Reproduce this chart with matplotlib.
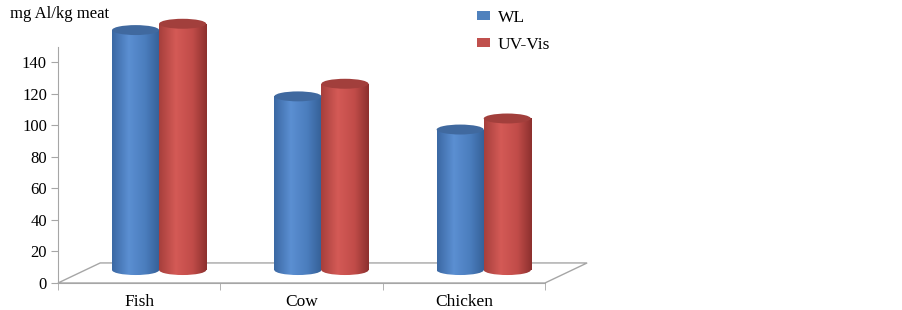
import matplotlib
matplotlib.use('Agg')
import matplotlib.pyplot as plt
import numpy as np
from matplotlib.patches import Ellipse, Rectangle, Polygon, Patch
from matplotlib.colors import LinearSegmentedColormap

categories = ['Fish', 'Cow', 'Chicken']
wl = [152, 110, 89]
uvvis = [156, 118, 96]
yticks = [0, 20, 40, 60, 80, 100, 120, 140]

plt.rcParams['font.family'] = ['Liberation Serif', 'DejaVu Serif']

fig = plt.figure(figsize=(9.02, 3.10), dpi=100)
ax = fig.add_axes([58 / 902, 27 / 310, 535.6 / 902, 268.4 / 310])
ax.set_xlim(-0.5, 2.8)
ax.set_ylim(0, 170)

grey = '#a6a6a6'
# 3d floor
dx, dy = 0.26, 12.7
floor = Polygon([(-0.5, 0), (2.5, 0), (2.5 + dx, dy), (-0.5 + dx, dy)],
                closed=True, facecolor='white', edgecolor=grey, lw=1.0, zorder=1,
                clip_on=False)
ax.add_patch(floor)

blue_cm = LinearSegmentedColormap.from_list('b', [(0, '#3b68a3'), (0.35, '#5b8fd2'),
                                                 (0.7, '#4a7dbd'), (1, '#355f96')])
red_cm = LinearSegmentedColormap.from_list('r', [(0, '#a63f3c'), (0.35, '#d45a56'),
                                                (0.7, '#c14c49'), (1, '#8c302e')])
grad = np.linspace(0, 1, 256).reshape(1, -1)

w = 0.29
base = 8.2
eh = 6.3
xoff = 0.123


def cylinder(xc, h, cmap, top_color):
    x0 = xc - w / 2
    body = Rectangle((x0, base), w, h, transform=ax.transData)
    im = ax.imshow(grad, cmap=cmap, extent=[x0, x0 + w, base - eh, base + h],
                   aspect='auto', zorder=3)
    im.set_clip_path(body)
    bot = Ellipse((xc, base), w, eh, transform=ax.transData)
    im2 = ax.imshow(grad, cmap=cmap, extent=[x0, x0 + w, base - eh, base + h],
                    aspect='auto', zorder=3)
    im2.set_clip_path(bot)
    ax.add_patch(Ellipse((xc, base + h), w, eh, facecolor=top_color,
                         edgecolor='none', zorder=4))


for i in range(len(categories)):
    c = i + xoff
    cylinder(c - w / 2, wl[i], blue_cm, '#40699f')
    cylinder(c + w / 2, uvvis[i], red_cm, '#a23f3c')

ax.set_xlim(-0.5, 2.8)
ax.set_ylim(0, 170)

for s in ['top', 'right']:
    ax.spines[s].set_visible(False)
ax.spines['left'].set_bounds(0, 149.5)
ax.spines['bottom'].set_bounds(-0.5, 2.5)
for s in ['left', 'bottom']:
    ax.spines[s].set_color(grey)
    ax.spines[s].set_zorder(2)

ax.set_yticks(yticks)
ax.set_yticklabels([str(t) for t in yticks], fontsize=12)
ax.set_xticks(range(len(categories)))
ax.set_xticklabels(categories, fontsize=12.5)
ax.set_xticks([-0.5, 0.5, 1.5, 2.5], minor=True)
ax.tick_params(axis='x', which='major', length=0, pad=8)
ax.tick_params(axis='x', which='minor', length=5, color=grey)
ax.tick_params(axis='y', length=5, color=grey, pad=3)

fig.text(10 / 902, 1 - 14 / 310, 'mg Al/kg meat', fontsize=12, va='center', ha='left')

handles = [Patch(facecolor='#4f81bd', edgecolor='none'),
           Patch(facecolor='#c0504d', edgecolor='none')]
fig.legend(handles, ['WL', 'UV-Vis'], loc='upper left',
           bbox_to_anchor=(477 / 902, 1 - 10 / 310), frameon=False, fontsize=12.5,
           borderpad=0, borderaxespad=0,
           handlelength=0.75, handleheight=0.4, handletextpad=0.45, labelspacing=0.62)

fig.savefig('out.png', dpi=100)
